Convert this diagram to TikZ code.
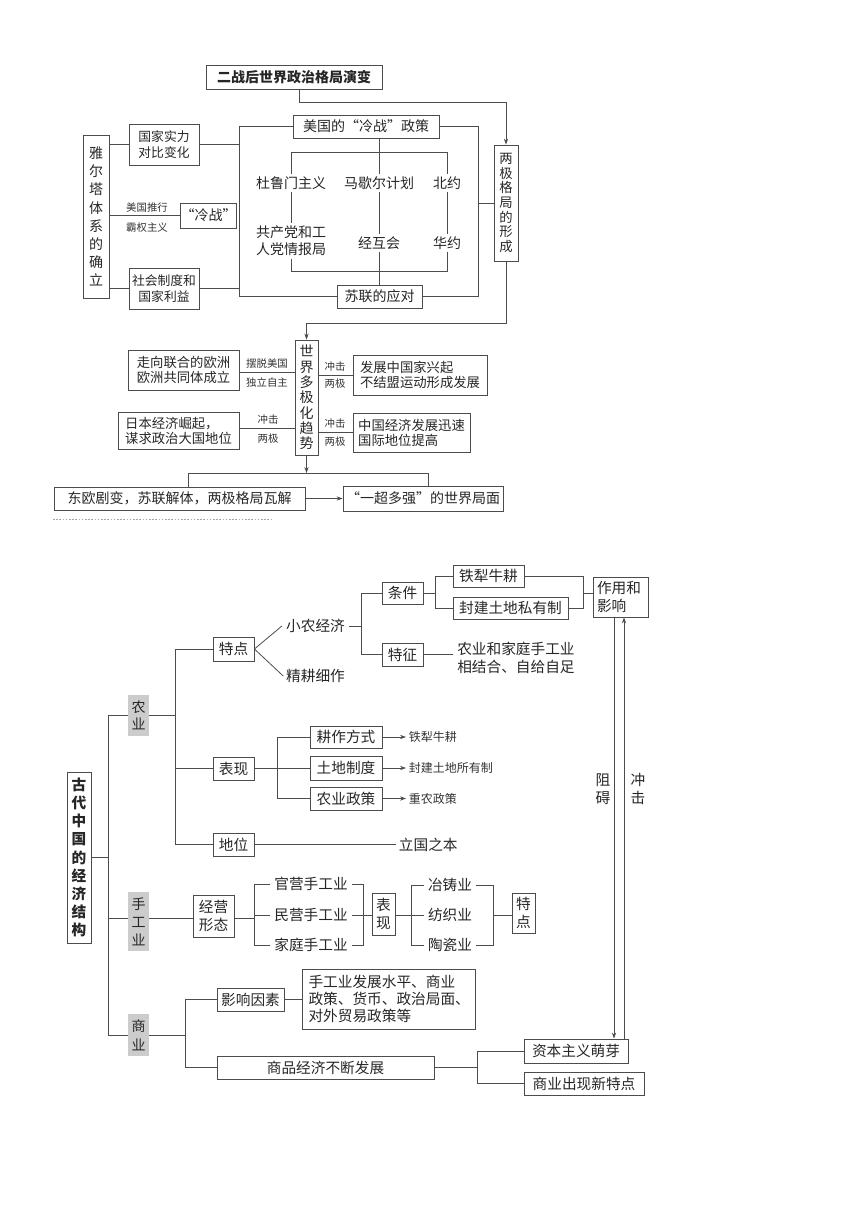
\documentclass[tikz,border=0pt]{standalone}
\usepackage{fontspec}
\setmainfont{Noto Sans CJK SC}
\usetikzlibrary{arrows.meta}
\begin{document}
\begin{tikzpicture}[x=0.75pt,y=-0.75pt,
  ln/.style={draw=black!70, line width=0.6pt},
  arr/.style={ln, -{Stealth[length=4.5pt,width=3.2pt]}},
  bx/.style 2 args={draw=black!70, line width=0.6pt, text=black!85, minimum width=#1*0.75pt, minimum height=#2*0.75pt, inner sep=0pt, align=center},
  gb/.style 2 args={fill=black!20, text=black!85, minimum width=#1*0.75pt, minimum height=#2*0.75pt, inner sep=0pt, align=center},
  tx/.style={text=black!85, inner sep=2pt, align=center},
  tf/.style={font=\fontsize{10.5pt}{12.5pt}\selectfont},
  sm/.style={text=black!80, inner sep=0pt, font=\fontsize{7.8pt}{9pt}\selectfont},
  bf/.style={font=\fontsize{11pt}{13.5pt}\selectfont},
  lb/.style={text=black!80, anchor=west, inner sep=2pt, font=\fontsize{9pt}{10pt}\selectfont}
]
\useasboundingbox (0,0) rectangle (860,1216);

% ================= TOP DIAGRAM =================
\node[bx={176}{24}, font=\fontsize{10.5pt}{12pt}\selectfont\bfseries] (title) at (294,77) {二战后世界政治格局演变};
\node[bx={24}{116}, font=\fontsize{10pt}{11pt}\selectfont] (liangji) at (506,203) {两\\极\\格\\局\\的\\形\\成};
\node[bx={26}{163}, font=\fontsize{10.5pt}{13.6pt}\selectfont] (yalta) at (96,216.5) {雅\\尔\\塔\\体\\系\\的\\确\\立};
\node[bx={70}{41}, font=\fontsize{9.6pt}{12.5pt}\selectfont] (guojia) at (164,144.5) {国家实力\\对比变化};
\node[bx={51}{25}, tf] (lengzhan) at (208.5,215.5) {“冷战”};
\node[bx={70}{41}, font=\fontsize{9.6pt}{12.5pt}\selectfont] (shehui) at (164,288.5) {社会制度和\\国家利益};
\node[bx={146}{23}, tf] (us) at (366,126.5) {美国的“冷战”政策};
\node[bx={85}{23}, tf] (su) at (379.5,296.5) {苏联的应对};

\node[sm] (lab1) at (147,208) {美国推行};
\node[sm] (lab2) at (147,228) {霸权主义};

% inner texts
\node[tx, tf] (t1) at (291,183) {杜鲁门主义};
\node[tx, tf] (t2) at (379,183) {马歇尔计划};
\node[tx, tf] (t3) at (447,183) {北约};
\node[tx, tf] (t4) at (291,241) {共产党和工\\人党情报局};
\node[tx, tf] (t5) at (379,243) {经互会};
\node[tx, tf] (t6) at (447,243) {华约};

\coordinate (fl) at (239,0);
\coordinate (fr) at (478,0);
\coordinate (ftl) at (291,152);
\coordinate (ftr) at (447,152);
\coordinate (fbl) at (291,271);
\coordinate (fbr) at (447,271);
\coordinate (c1) at (299,102);

\draw[arr] (title.south -| c1) -- (c1) -| (liangji.north);
\draw[ln] (us.west) -- (us.west -| fl) -- (su.west -| fl) -- (su.west);
\draw[ln] (us.east) -- (us.east -| fr) -- (su.east -| fr) -- (su.east);
\draw[ln] (guojia.east) -- (guojia.east -| fl);
\draw[ln] (shehui.east) -- (shehui.east -| fl);
\draw[ln] (liangji.west) -- (liangji.west -| fr);
\draw[ln] (yalta.east |- guojia.west) -- (guojia.west);
\draw[ln] (yalta.east |- lengzhan.west) -- (lengzhan.west);
\draw[ln] (yalta.east |- shehui.west) -- (shehui.west);

\draw[ln] (t1.north) -- (ftl) -- (ftr) -- (t3.north);
\draw[ln] (t1.south) -- (t4.north);
\draw[ln] (t3.south) -- (t6.north);
\draw[ln] (t4.south) -- (fbl) -- (fbr) -- (t6.south);
\draw[ln] (t2.north |- us.south) -- (t2.north);
\draw[ln] (t2.south) -- (t5.north);
\draw[ln] (t5.south) -- (t5.south |- su.north);

% multipolar part
\node[bx={23}{115}, font=\fontsize{10.5pt}{11.5pt}\selectfont] (world) at (306.5,397.5) {世\\界\\多\\极\\化\\趋\\势};
\node[bx={111}{40}, font=\fontsize{10pt}{11.3pt}\selectfont] (eu) at (183.5,370) {走向联合的欧洲\\欧洲共同体成立};
\node[bx={121}{37}, font=\fontsize{10pt}{11.3pt}\selectfont, align=left] (jp) at (178.5,430.5) {日本经济崛起，\\谋求政治大国地位};
\node[bx={134}{40}, font=\fontsize{10pt}{11.3pt}\selectfont, align=left] (dev) at (420,375) {发展中国家兴起\\不结盟运动形成发展};
\node[bx={117}{39}, font=\fontsize{10pt}{11.3pt}\selectfont, align=left] (cn) at (411.5,432.5) {中国经济发展迅速\\国际地位提高};

\draw[arr] (liangji.south) -- ++(0,62) -| (world.north);
\draw[ln] (eu.east |- 0,372) -- (world.west |- 0,372);
\draw[ln] (jp.east |- 0,428) -- (world.west |- 0,428);
\draw[ln] (world.east |- 0,375) -- (dev.west |- 0,375);
\draw[ln] (world.east |- 0,432) -- (cn.west |- 0,432);

\node[sm] (l3) at (267,364) {摆脱美国};
\node[sm] (l4) at (267,383) {独立自主};
\node[sm] (l5) at (268,420) {冲击};
\node[sm] (l6) at (268,439) {两极};
\node[sm] (l7) at (335,367) {冲击};
\node[sm] (l8) at (335,384) {两极};
\node[sm] (l9) at (335,424) {冲击};
\node[sm] (l10) at (335,442) {两极};

\node[bx={251}{23}, tf] (ee) at (179.5,498.5) {东欧剧变，苏联解体，两极格局瓦解};
\node[bx={160}{25}, tf] (yc) at (423,498.5) {“一超多强”的世界局面};
\coordinate (h1) at (188,473);
\coordinate (h2) at (428,473);
\draw[arr] (world.south) -- (world.south |- h1);
\draw[ln] (h1 |- ee.north) -- (h1) -- (h2) -- (h2 |- yc.north);
\draw[arr] (ee.east) -- (yc.west);
\draw[black!35, line width=0.6pt, dash pattern=on 1.2pt off 1.2pt] (53,519) -- (273,519);

% ================= BOTTOM DIAGRAM =================
\node[bx={24}{171}, font=\fontsize{11pt}{13.6pt}\selectfont\bfseries] (gudai) at (79,857.5) {古\\代\\中\\国\\的\\经\\济\\结\\构};
\node[gb={21}{41}, font=\fontsize{10.5pt}{12.5pt}\selectfont] (nongye) at (138.5,715.5) {农\\业};
\node[gb={21}{59}, font=\fontsize{10.5pt}{13.5pt}\selectfont] (shougong) at (138.5,921.5) {手\\工\\业};
\node[gb={21}{42}, font=\fontsize{10.5pt}{14pt}\selectfont] (shangye) at (138.5,1035) {商\\业};

\node[bx={41}{24}, bf] (tedian) at (233.5,649) {特点};
\node[bx={41}{23}, bf] (biaoxian) at (233.5,768.5) {表现};
\node[bx={41}{23}, bf] (diwei) at (233.5,844.5) {地位};

\coordinate (sp) at (108,0);
\coordinate (sp2) at (175,0);
\draw[ln] (nongye.west) -- (nongye.west -| sp) -- (shangye.west -| sp) -- (shangye.west);
\draw[ln] (gudai.east) -- (gudai.east -| sp);
\draw[ln] (shougong.west |- 0,918) -- (sp |- 0,918);
\draw[ln] (tedian.west) -- (tedian.west -| sp2) -- (diwei.west -| sp2) -- (diwei.west);
\draw[ln] (nongye.east) -- (nongye.east -| sp2);
\draw[ln] (biaoxian.west) -- (biaoxian.west -| sp2);

% 特点 branch
\node[tx, bf, inner xsep=3pt] (xiaonong) at (315.5,626) {小农经济};
\node[tx, bf] (jinggeng) at (315.5,676) {精耕细作};
\draw[ln] (tedian.east) -- (xiaonong.west);
\draw[ln] (tedian.east) -- (jinggeng.west);

\node[bx={41}{22}, bf] (tiaojian) at (402.5,593) {条件};
\node[bx={41}{23}, bf] (tezheng) at (402.5,654.5) {特征};
\node[bx={71}{22}, bf] (tiexi) at (488.5,576) {铁犁牛耕};
\node[bx={115}{22}, bf] (fengjian) at (510.5,608) {封建土地私有制};
\node[bx={55}{40}, bf, align=left, text width=47*0.75pt, inner xsep=4*0.75pt] (zuoyong) at (620.5,597) {作用和\\影响};
\node[tx, bf, anchor=west, align=left, inner sep=3pt] (nongjia) at (453,658) {农业和家庭手工业\\相结合、自给自足};

\coordinate (k0) at (361,0);
\coordinate (k1) at (435,0);
\coordinate (k2) at (583,0);
\draw[ln] (xiaonong.east) -- (xiaonong.east -| k0);
\draw[ln] (tiaojian.west) -- (tiaojian.west -| k0) -- (tezheng.west -| k0) -- (tezheng.west);
\draw[ln] (tezheng.east) -- (tezheng.east -| nongjia.west);
\draw[ln] (tiaojian.east) -- (tiaojian.east -| k1);
\draw[ln] (tiexi.west) -- (tiexi.west -| k1) -- (fengjian.west -| k1) -- (fengjian.west);
\draw[ln] (tiexi.east) -- (tiexi.east -| k2) -- (fengjian.east -| k2) -- (fengjian.east);
\draw[ln] (tiaojian.east -| k2) -- (tiaojian.east -| zuoyong.west);

% 表现 branch
\node[bx={72}{22}, bf] (gengzuo) at (346,737) {耕作方式};
\node[bx={72}{24}, bf] (tudi) at (346,768) {土地制度};
\node[bx={72}{23}, bf] (nongzheng) at (346,798.5) {农业政策};
\node[lb] (la1) at (406,737) {铁犁牛耕};
\node[lb] (la2) at (406,768) {封建土地所有制};
\node[lb] (la3) at (406,798.5) {重农政策};
\coordinate (b3) at (277,0);
\draw[ln] (biaoxian.east) -- (biaoxian.east -| b3);
\draw[ln] (gengzuo.west) -- (gengzuo.west -| b3) -- (nongzheng.west -| b3) -- (nongzheng.west);
\draw[ln] (tudi.west) -- (tudi.west -| b3);
\draw[arr] (gengzuo.east) -- (la1.west);
\draw[arr] (tudi.east) -- (la2.west);
\draw[arr] (nongzheng.east) -- (la3.west);

% 地位
\node[tx, bf, anchor=west] (lizhi) at (396,844.5) {立国之本};
\draw[ln] (diwei.east) -- (lizhi.west);

% 手工业 branch
\node[bx={41}{42}, bf] (jingying) at (213.5,916) {经营\\形态};
\node[tx, bf, inner xsep=3pt] (g1) at (311,884) {官营手工业};
\node[tx, bf, inner xsep=3pt] (g2) at (311,915) {民营手工业};
\node[tx, bf, inner xsep=3pt] (g3) at (311,945) {家庭手工业};
\node[bx={23}{42}, font=\fontsize{11pt}{13pt}\selectfont] (biaoxian2) at (383.5,914) {表\\现};
\node[tx, bf, inner xsep=3pt] (y1) at (450,885) {冶铸业};
\node[tx, bf, inner xsep=3pt] (y2) at (450,915) {纺织业};
\node[tx, bf, inner xsep=3pt] (y3) at (450,945) {陶瓷业};
\node[bx={23}{40}, font=\fontsize{11pt}{13pt}\selectfont] (tedian2) at (523.5,913) {特\\点};
\coordinate (hh1) at (254,0);
\coordinate (hh2) at (363,0);
\coordinate (hh3) at (411,0);
\coordinate (hh4) at (493,0);
\draw[ln] (shougong.east |- 0,918) -- (jingying.west |- 0,918);
\draw[ln] (jingying.east |- 0,918) -- (hh1 |- 0,918);
\draw[ln] (g1.west) -- (g1.west -| hh1) -- (g3.west -| hh1) -- (g3.west);
\draw[ln] (g2.west) -- (g2.west -| hh1);
\draw[ln] (g1.east) -- (g1.east -| hh2) -- (g3.east -| hh2) -- (g3.east);
\draw[ln] (g2.east) -- (g2.east -| biaoxian2.west);
\draw[ln] (biaoxian2.east |- g2.east) -- (hh3 |- g2.east);
\draw[ln] (y1.west) -- (y1.west -| hh3) -- (y3.west -| hh3) -- (y3.west);
\draw[ln] (y2.west) -- (y2.west -| hh3);
\draw[ln] (y1.east) -- (y1.east -| hh4) -- (y3.east -| hh4) -- (y3.east);
\draw[ln] (y2.east -| hh4) -- (y2.east -| tedian2.west);

% 商业 branch
\node[bx={67}{23}, bf] (yingxiang) at (250.5,999.5) {影响因素};
\node[bx={173}{60}, bf, align=left, text width=160*0.75pt, inner xsep=6.5*0.75pt, font=\fontsize{11pt}{12.8pt}\selectfont] (yinsu) at (388.5,999) {手工业发展水平、商业\\政策、货币、政治局面、\\对外贸易政策等};
\node[bx={217}{23}, bf] (shangpin) at (325.5,1067.5) {商品经济不断发展};
\node[bx={104}{24}, bf] (ziben) at (576,1051) {资本主义萌芽};
\node[bx={120}{23}, bf] (shangxin) at (584,1083.5) {商业出现新特点};
\coordinate (s1) at (185,0);
\coordinate (s2) at (477,0);
\draw[ln] (shangye.east) -- (shangye.east -| s1);
\draw[ln] (yingxiang.west) -- (yingxiang.west -| s1) -- (shangpin.west -| s1) -- (shangpin.west);
\draw[ln] (yingxiang.east) -- (yingxiang.east -| yinsu.west);
\draw[ln] (shangpin.east) -- (shangpin.east -| s2);
\draw[ln] (ziben.west) -- (ziben.west -| s2) -- (shangxin.west -| s2) -- (shangxin.west);

% 阻碍 / 冲击
\coordinate (za) at (614,0);
\coordinate (cj) at (624,0);
\draw[arr] (zuoyong.south -| za) -- (ziben.north -| za);
\draw[arr] (ziben.north -| cj) -- (zuoyong.south -| cj);
\node[tx, font=\fontsize{11pt}{13.5pt}\selectfont] (zuai) at (603,789) {阻\\碍};
\node[tx, font=\fontsize{11pt}{13.5pt}\selectfont] (chongji) at (638,789) {冲\\击};
\end{tikzpicture}
\end{document}
